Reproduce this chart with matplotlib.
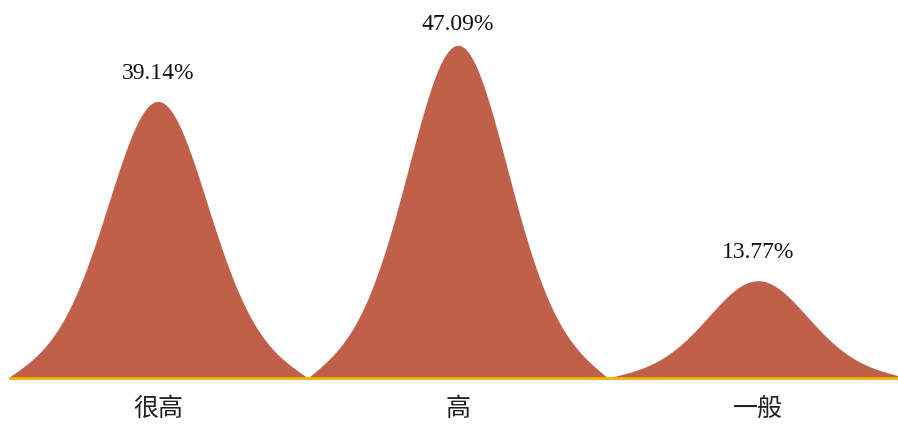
import numpy as np
import matplotlib
matplotlib.use("Agg")
import matplotlib.pyplot as plt

categories = ["很高", "高", "一般"]
values = [39.14, 47.09, 13.77]
value_labels = ["39.14%", "47.09%", "13.77%"]

peak_color = "#C0604A"
base_color = "#F2B200"


# bell shaped "peak" on one category slot, 0 at both edges, 1 at the center
def peak_shape(t):
    g = np.exp(-t ** 2 / (2 * 0.17 ** 2))
    sech2 = 1 / np.cosh(t / 0.235) ** 2
    f = 0.5 * g + 0.5 * sech2
    edge = 0.5 * np.exp(-0.25 / (2 * 0.17 ** 2)) + 0.5 / np.cosh(0.5 / 0.235) ** 2
    # pull the tails down so the shape lands on the baseline at the slot edge
    return f - edge * (2 * np.abs(t)) ** 6


fig = plt.figure(figsize=(8.98, 4.25), dpi=100)
ax = fig.add_axes([10 / 898, 47 / 425, 888 / 898, 378 / 425])

t = np.linspace(-0.5, 0.5, 400)
for i, v in enumerate(values):
    ax.fill_between(i + t, 0, v * peak_shape(t), color=peak_color, linewidth=0)
    ax.text(i, min(v + 4.0, 50.0), value_labels[i], ha="center", va="center",
            fontsize=17, family="Liberation Serif", color="#111111")

ax.set_xlim(-0.493, 2.467)
ax.set_ylim(0, 53.5)

ax.set_xticks(range(len(categories)))
ax.set_xticklabels(categories, family=["Noto Sans CJK SC", "DejaVu Sans"],
                   fontsize=18, color="#222222")
ax.tick_params(axis="x", length=0, pad=13)
ax.set_yticks([])

for side in ["top", "left", "right"]:
    ax.spines[side].set_visible(False)
ax.spines["bottom"].set_color(base_color)
ax.spines["bottom"].set_linewidth(2)

fig.savefig("out.png", dpi=100)
